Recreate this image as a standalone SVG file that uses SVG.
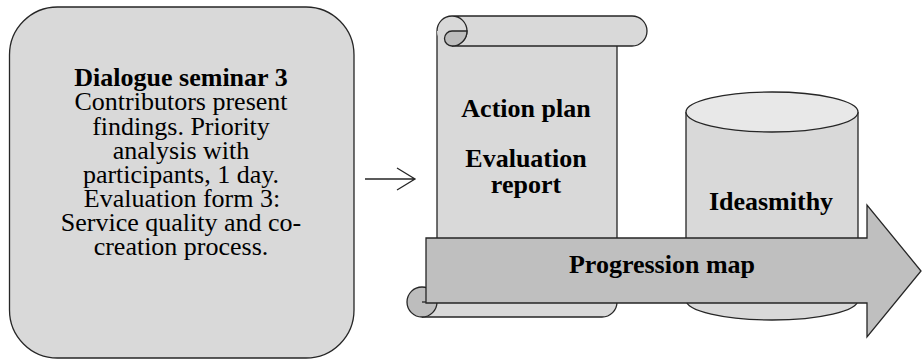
<svg xmlns="http://www.w3.org/2000/svg" width="922" height="361" viewBox="0 0 922 361" font-family="Liberation Serif, Times New Roman, serif">
<style>
text{font-size:26px;fill:#000;text-anchor:middle}
.b{font-weight:bold}
.ln{fill:none;stroke:#262626;stroke-width:1.3}
.lt{fill:#d9d9d9}
.dk{fill:#bdbdbd;stroke:#262626;stroke-width:1.3}
</style>
<rect width="922" height="361" fill="#fff"/>
<g id="seminar">
<rect x="9.5" y="7" width="344.5" height="351" rx="48" ry="48" fill="#d9d9d9" stroke="#262626" stroke-width="1.3"/>
<text x="181" y="86" class="b">Dialogue seminar 3</text>
<text x="181" y="110">Contributors present</text>
<text x="181" y="134.5">findings. Priority</text>
<text x="181" y="158.5">analysis with</text>
<text x="181" y="183">participants, 1 day.</text>
<text x="182" y="207">Evaluation form 3:</text>
<text x="181" y="231">Service quality and co-</text>
<text x="181" y="255">creation process.</text>
</g>
<g id="connectors">
<path class="ln" d="M365,179 H415 M397,168 L415,179 L397,190"/>
</g>
<g id="scroll">
<path class="lt" d="M437,31 H617 V302 A15,15 0 0 1 602,317 H422 V287 H437 Z"/>
<path class="ln" d="M437,31 V302 M617,46 V302 A15,15 0 0 1 602,317 H422"/>
<circle cx="422" cy="302" r="15" class="dk"/>
<path class="ln" d="M422,302 H437"/>
<path class="lt" d="M437,31 A15,15 0 0 1 452,16 H632 A15,15 0 0 1 632,46 H452 A15,15 0 0 1 437,31 Z"/>
<path class="ln" d="M437,31 A15,15 0 0 1 452,16 H632 A15,15 0 0 1 632,46 H452 M452,16 A15,15 0 0 1 467,31 A15,15 0 0 1 452,46"/>
<path class="dk" d="M452,31 A7.5,7.5 0 0 0 452,46 A15,15 0 0 0 467,31 Z"/>
<text x="526" y="117" class="b">Action plan</text>
<text x="526" y="167" class="b">Evaluation</text>
<text x="526" y="193" class="b">report</text>
</g>
<g id="ideasmithy">
<path class="lt" d="M686,112 V300 A86,20 0 0 0 858,300 V112" stroke="#262626" stroke-width="1.3"/>
<ellipse cx="772" cy="112" rx="86" ry="20" fill="#e8e8e8" stroke="#262626" stroke-width="1.3"/>
<text x="771" y="210" class="b">Ideasmithy</text>
</g>
<g id="progression">
<path d="M426,238 H867 V205 L921,271 L867,337 V303 H426 Z" fill="#bfbfbf" stroke="#262626" stroke-width="1.3"/>
<text x="662" y="273" class="b">Progression map</text>
</g>
</svg>
